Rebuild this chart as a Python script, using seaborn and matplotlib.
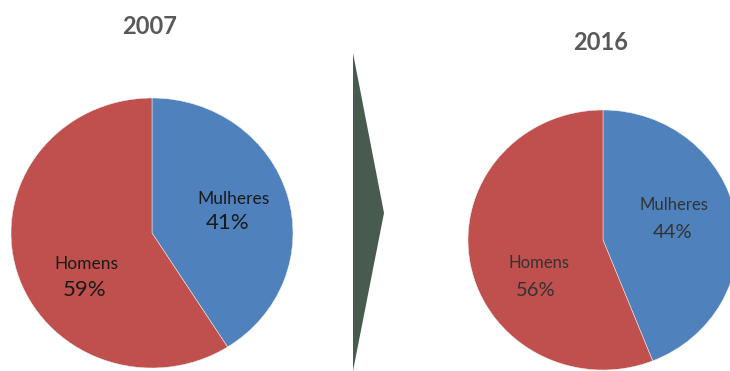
import matplotlib
matplotlib.use("Agg")
import matplotlib.pyplot as plt
from matplotlib.patches import Polygon
import seaborn as sns

# Data
years = ["2007", "2016"]
categories = ["Mulheres", "Homens"]
values_2007 = [41, 59]
values_2016 = [44, 56]
colors = ["#4f81bd", "#c0504d"]

sns.set_theme(style="white")
plt.rcParams["font.family"] = ["Lato", "DejaVu Sans"]

W, H = 730, 371
fig = plt.figure(figsize=(W / 100, H / 100), dpi=100)
fig.patch.set_facecolor("white")


def fx(x):
    return x / W


def fy(y):
    return 1 - y / H


def pie_axes(cx, cy, rx, ry):
    ax = fig.add_axes([fx(cx - rx), fy(cy + ry), 2 * rx / W, 2 * ry / H])
    return ax


# Left pie (2007)
ax1 = pie_axes(152, 233, 141, 135)
ax1.pie(values_2007, colors=colors, startangle=90, counterclock=False,
        wedgeprops=dict(edgecolor="#f0f0f0", linewidth=0.35))
ax1.set_aspect("auto")
ax1.set_xlim(-1, 1)
ax1.set_ylim(-1, 1)
ax1.axis("off")

# Right pie (2016)
ax2 = pie_axes(603, 240, 135, 130)
ax2.pie(values_2016, colors=colors, startangle=90, counterclock=False,
        wedgeprops=dict(edgecolor="#f0f0f0", linewidth=0.35))
ax2.set_aspect("auto")
ax2.set_xlim(-1, 1)
ax2.set_ylim(-1, 1)
ax2.axis("off")

# Titles
title_color = "#595959"
fig.text(fx(150), fy(27), years[0], ha="center", va="center",
         fontsize=17, fontweight="bold", color=title_color)
fig.text(fx(601), fy(42), years[1], ha="center", va="center",
         fontsize=17, fontweight="bold", color=title_color)

# Labels
lab_pos_2007 = [((233, 199), (228, 223)), ((86, 264), (85, 290))]
lab_pos_2016 = [((674, 205), (673, 232)), ((539, 263), (536, 290))]
for (name_xy, pct_xy), cat, v in zip(lab_pos_2007, categories, values_2007):
    fig.text(fx(name_xy[0]), fy(name_xy[1]), cat, ha="center", va="center",
             fontsize=12.5, color="#1a1a1a")
    fig.text(fx(pct_xy[0]), fy(pct_xy[1]), f"{v}%", ha="center", va="center",
             fontsize=16, color="#1a1a1a")
for (name_xy, pct_xy), cat, v in zip(lab_pos_2016, categories, values_2016):
    fig.text(fx(name_xy[0]), fy(name_xy[1]), cat, ha="center", va="center",
             fontsize=12, color="#333333")
    fig.text(fx(pct_xy[0]), fy(pct_xy[1]), f"{v}%", ha="center", va="center",
             fontsize=14.5, color="#333333")

# Arrow shape between the pies
arrow = Polygon([(fx(353), fy(53)), (fx(384), fy(213)), (fx(353), fy(371))],
                closed=True, transform=fig.transFigure,
                facecolor="#475b4f", edgecolor="none")
fig.patches.append(arrow)

fig.savefig("out.png", dpi=100, facecolor="white")
